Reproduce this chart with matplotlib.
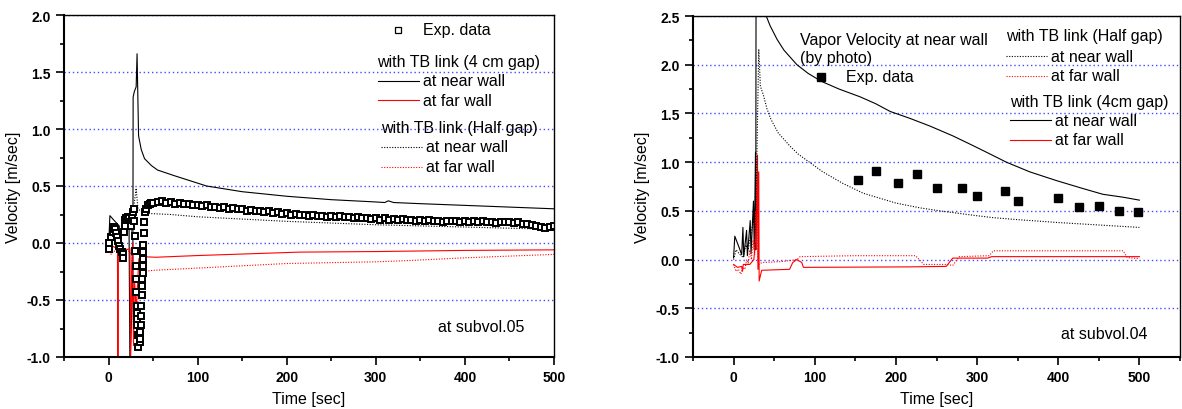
import matplotlib
matplotlib.use("Agg")
import matplotlib.pyplot as plt
from matplotlib.ticker import MultipleLocator, FormatStrFormatter
from matplotlib.lines import Line2D

plt.rcParams['font.family'] = ['Liberation Sans', 'DejaVu Sans']
plt.rcParams['axes.unicode_minus'] = False

# ---------------- subvol.05 (left panel) ----------------
# exp. data (open squares)
exp05_t = [0, 1, 3, 4.5, 5, 6, 7, 8.5, 10, 11, 11.5, 13, 15, 16, 16.5, 17, 18, 19, 20, 22, 23.5, 25, 25.5, 26.5, 27.5,
           28.5, 29, 29.5, 30, 30.5, 31, 31, 31.5, 31.5, 32, 32.2, 32.5, 32.9,
           34.8, 35.2, 35.6, 36, 36.4, 36.7, 37.2, 37.6, 38, 38.3, 38.6, 38.8, 39, 39.2, 39.7, 40, 40.4,
           42, 44, 46, 48, 50,
           55, 60, 65, 70, 75, 80, 85, 90, 95, 100, 105, 110, 115, 120, 125, 130, 135, 140, 145, 150,
           155, 160, 165, 170, 175, 180, 185, 190, 195, 200, 205, 210, 215, 220, 225, 230, 235, 240, 245, 250,
           255, 260, 265, 270, 275, 280, 285, 290, 295, 300, 305, 310, 315, 320, 325, 330, 335, 340, 345, 350,
           355, 360, 365, 370, 375, 380, 385, 390, 395, 400, 405, 410, 415, 420, 425, 430, 435, 440, 445, 450,
           455, 460, 465, 470, 475, 480, 485, 490, 495, 500]
exp05_v = [-0.05, 0.0, 0.05, 0.1, 0.13, 0.14, 0.12, 0.09, 0.05, 0.02, -0.03, -0.05, -0.08, -0.1, -0.13, 0.1, 0.15, 0.2, 0.22, 0.23, 0.22, 0.18, 0.15, 0.22, 0.27,
           0.30, 0.195, 0.065, -0.07, -0.20, -0.32, -0.43, -0.55, -0.61, -0.67, -0.72, -0.81, -0.91,
           -0.87, -0.84, -0.78, -0.72, -0.64, -0.55, -0.46, -0.38, -0.32, -0.26, -0.20, -0.14, -0.08, -0.02, 0.09, 0.18, 0.27,
           0.30, 0.33, 0.34, 0.35, 0.355,
           0.36, 0.37, 0.355, 0.36, 0.345, 0.355, 0.34, 0.345, 0.33, 0.335, 0.325, 0.33, 0.315, 0.32, 0.31, 0.315, 0.30, 0.305, 0.295, 0.30,
           0.285, 0.29, 0.28, 0.285, 0.275, 0.28, 0.265, 0.27, 0.255, 0.26, 0.25, 0.255, 0.245, 0.25, 0.24, 0.245, 0.235, 0.24, 0.23, 0.24,
           0.23, 0.235, 0.225, 0.23, 0.22, 0.225, 0.215, 0.22, 0.21, 0.215, 0.205, 0.215, 0.205, 0.21, 0.20, 0.21, 0.20, 0.205, 0.195, 0.20,
           0.195, 0.20, 0.19, 0.195, 0.185, 0.195, 0.19, 0.195, 0.185, 0.195, 0.185, 0.19, 0.18, 0.19, 0.18, 0.185, 0.175, 0.185, 0.18, 0.18,
           0.175, 0.18, 0.17, 0.17, 0.16, 0.15, 0.14, 0.135, 0.14, 0.15]

# with TB link (4 cm gap), near wall
near4_05_t = [0, 1.5, 6, 12, 13, 16, 20, 23, 24, 27.3, 27.6, 29, 31, 32, 33.7, 36.7, 40.4, 48, 55, 74, 110, 150, 200, 250,
              300, 310, 314, 320, 350, 400, 450, 500]
near4_05_v = [-0.04, 0.24, 0.2, 0.15, -0.05, 0.2, 0.22, 0.15, -1.1, -0.3, 1.28, 1.33, 1.37, 1.66, 0.94, 0.82, 0.74, 0.68, 0.64, 0.59, 0.50, 0.45, 0.41, 0.38,
              0.36, 0.355, 0.37, 0.355, 0.345, 0.33, 0.315, 0.30]
# with TB link (4 cm gap), far wall
far4_05_t = [0, 5, 10, 10.5, 11, 24, 24.7, 26, 27, 28, 29, 31, 34, 38.6, 53, 100, 214, 300, 400, 500]
far4_05_v = [-0.05, -0.03, -0.05, -1.1, -0.08, -0.05, -1.1, -0.2, 0.0, -0.9, -0.3, -0.6, -0.14, -0.12, -0.125, -0.11, -0.08, -0.075, -0.065, -0.06]
# with TB link (Half gap), near wall
nearh_05_t = [0, 3, 8, 12, 18, 22, 26, 28, 31, 33, 36, 42, 70, 100, 200, 300, 400, 500]
nearh_05_v = [-0.05, 0.1, 0.05, 0.0, 0.15, 0.2, 0.1, 0.3, 0.48, 0.3, 0.28, 0.26, 0.25, 0.23, 0.19, 0.16, 0.14, 0.12]
# with TB link (Half gap), far wall
farh_05_t = [0, 3, 6, 10, 20, 26, 28, 30, 32, 35, 38, 50, 100, 200, 300, 334, 400, 500]
farh_05_v = [-0.05, -0.1, -0.07, -0.08, -0.05, -0.1, -0.8, -0.4, -0.6, -0.3, -0.25, -0.24, -0.22, -0.18, -0.165, -0.155, -0.13, -0.10]

# ---------------- subvol.04 (right panel) ----------------
exp04_t = [153, 175, 202, 226, 251, 281, 300, 334, 350, 400, 425, 450, 475, 498]
exp04_v = [0.82, 0.905, 0.785, 0.88, 0.73, 0.73, 0.65, 0.70, 0.60, 0.63, 0.54, 0.55, 0.50, 0.485]

near4_04_t = [0, 1.5, 7, 10, 11.5, 12.5, 16, 17, 20.5, 21.5, 24.5, 25.5, 27, 27.3, 28, 36, 40.2, 45, 53.6, 62, 78, 92, 108,
              130, 156, 175, 193, 217, 242, 270, 290, 312, 336, 365, 398, 430, 455, 480, 500]
near4_04_v = [0.02, 0.24, 0.12, 0.05, 0.33, 0.03, 0.3, 0.04, 0.4, 0.06, 0.6, 0.1, 1.1, 0.1, 5.0, 3.0, 2.5, 2.4, 2.26, 2.15, 2.0, 1.91, 1.83,
              1.75, 1.67, 1.60, 1.52, 1.45, 1.37, 1.27, 1.19, 1.10, 1.0, 0.90, 0.81, 0.73, 0.67, 0.64, 0.61]
far4_04_t = [0, 5, 10, 11, 12, 20, 25, 28, 29.5, 30, 31, 31.5, 34.6, 69, 72.9, 77.8, 84, 86, 217, 262, 270, 313, 318, 500]
far4_04_v = [-0.05, -0.08, -0.07, -0.12, -0.05, -0.05, 0.0, 0.3, 1.07, -0.1, 0.9, -0.22, -0.11, -0.1, -0.03, 0.0, -0.03, -0.08, -0.075, -0.07, 0.015, 0.015, 0.03, 0.03]
nearh_04_t = [0, 3, 8, 12, 15, 18, 22, 25, 27, 29, 31, 33, 37, 41, 46, 55, 70, 80, 95, 110, 135, 160, 200, 230, 254,
              300, 320, 350, 400, 450, 500]
nearh_04_v = [0.0, 0.1, 0.05, 0.02, 0.15, 0.1, 0.3, 0.4, 0.3, 1.2, 2.16, 1.78, 1.68, 1.55, 1.44, 1.30, 1.16, 1.08, 0.99, 0.90, 0.78, 0.68, 0.58, 0.53, 0.50,
              0.45, 0.43, 0.41, 0.38, 0.355, 0.33]
farh_04_t = [0, 3, 6, 9, 11, 14, 16, 18, 20, 22, 24, 26, 27, 28, 29, 30, 31, 35, 60, 78, 82, 150, 224, 231, 234, 262,
             270, 278, 315, 320, 480, 485, 500]
farh_04_v = [-0.05, -0.12, -0.1, -0.15, -0.08, -0.1, 0.0, -0.05, 0.1, 0.0, 0.2, 0.05, 0.5, 0.1, 0.8, 0.0, -0.05, -0.03, -0.02, 0.0, 0.03, 0.04, 0.04, -0.02, -0.05, -0.05,
             -0.06, 0.03, 0.04, 0.09, 0.09, 0.02, 0.01]

W, H = 1182, 410
fig = plt.figure(figsize=(W / 100, H / 100), dpi=100)

DOT = (0, (1.0, 1.4))
GRID = dict(color='#4a4aff', lw=1.0, linestyle=(0, (1, 2)))
FS = 11.5


def style_axes(ax, xlim, ylim):
    ax.set_xlim(*xlim)
    ax.set_ylim(*ylim)
    ax.xaxis.set_major_locator(MultipleLocator(100))
    ax.xaxis.set_minor_locator(MultipleLocator(50))
    ax.yaxis.set_major_locator(MultipleLocator(0.5))
    ax.yaxis.set_minor_locator(MultipleLocator(0.25))
    ax.yaxis.set_major_formatter(FormatStrFormatter('%.1f'))
    ax.tick_params(which='both', direction='out', width=1.2, labelsize=10)
    ax.tick_params(which='major', length=6)
    ax.tick_params(which='minor', length=3)
    for lab in ax.get_xticklabels() + ax.get_yticklabels():
        lab.set_fontweight('bold')
    ax.yaxis.grid(True, **GRID)
    ax.set_axisbelow(True)
    for s in ax.spines.values():
        s.set_linewidth(1.0)
    ax.spines['left'].set_linewidth(1.5)
    ax.spines['bottom'].set_linewidth(1.5)
    ax.set_xlabel('Time [sec]', fontsize=FS, labelpad=5)
    ax.set_ylabel('Velocity [m/sec]', fontsize=FS, labelpad=4)


def fx(px):
    return px / W


def fy(py):
    return 1 - py / H


def leg_line(x0, x1, y, **kw):
    fig.add_artist(Line2D([fx(x0), fx(x1)], [fy(y), fy(y)], transform=fig.transFigure, **kw))


def leg_text(x, y, s):
    fig.text(fx(x), fy(y), s, fontsize=FS, va='center', ha='left')


# left panel
ax1 = fig.add_axes([fx(64), fy(358), fx(554) - fx(64), fy(16) - fy(358)])
ax1.plot(near4_05_t, near4_05_v, color='black', lw=0.8)
ax1.plot(far4_05_t, far4_05_v, color='red', lw=0.8)
ax1.plot(nearh_05_t, nearh_05_v, color='black', lw=0.8, linestyle=DOT)
ax1.plot(farh_05_t, farh_05_v, color='red', lw=0.8, linestyle=DOT)
ax1.plot(exp05_t, exp05_v, linestyle='none', marker='s', markersize=4.8,
         markerfacecolor='white', markeredgecolor='black', markeredgewidth=1.4)
style_axes(ax1, (-50, 500), (-1.0, 2.0))
ax1.text(fx(438), fy(328), 'at subvol.05', fontsize=FS, va='center', transform=fig.transFigure)

fig.add_artist(Line2D([fx(397.7)], [fy(31)], transform=fig.transFigure, linestyle='none', marker='s',
                      markersize=4, markerfacecolor='white', markeredgecolor='black', markeredgewidth=0.9))
leg_text(423, 31, 'Exp. data')
leg_text(377, 62, 'with TB link (4 cm gap)')
leg_line(378, 419, 82, color='black', lw=0.8)
leg_text(423, 82, 'at near wall')
leg_line(378, 419, 101, color='red', lw=0.8)
leg_text(423, 101, 'at far wall')
leg_text(381, 129, 'with TB link (Half gap)')
leg_line(381, 422, 148, color='black', lw=0.8, linestyle=DOT)
leg_text(426, 148, 'at near wall')
leg_line(381, 422, 168, color='red', lw=0.8, linestyle=DOT)
leg_text(426, 168, 'at far wall')

# right panel
ax2 = fig.add_axes([fx(693), fy(358), fx(1180) - fx(693), fy(17) - fy(358)])
ax2.plot(near4_04_t, near4_04_v, color='black', lw=0.8)
ax2.plot(far4_04_t, far4_04_v, color='red', lw=0.8)
ax2.plot(nearh_04_t, nearh_04_v, color='black', lw=0.8, linestyle=DOT)
ax2.plot(farh_04_t, farh_04_v, color='red', lw=0.8, linestyle=DOT)
ax2.plot(exp04_t, exp04_v, linestyle='none', marker='s', markersize=6, color='black')
style_axes(ax2, (-50, 550), (-1.0, 2.5))
ax2.text(fx(1061), fy(335), 'at subvol.04', fontsize=FS, va='center', transform=fig.transFigure)

leg_text(800, 40, 'Vapor Velocity at near wall')
leg_text(800, 59, '(by photo)')
fig.add_artist(Line2D([fx(821)], [fy(78)], transform=fig.transFigure, linestyle='none', marker='s',
                      markersize=6, color='black'))
leg_text(846, 78, 'Exp. data')
leg_text(1006, 37, 'with TB link (Half gap)')
leg_line(1006, 1047, 57, color='black', lw=0.8, linestyle=DOT)
leg_text(1051, 57, 'at near wall')
leg_line(1006, 1047, 77, color='red', lw=0.8, linestyle=DOT)
leg_text(1051, 77, 'at far wall')
leg_text(1010, 102, 'with TB link (4cm gap)')
leg_line(1010, 1051, 121, color='black', lw=0.8)
leg_text(1055, 121, 'at near wall')
leg_line(1010, 1051, 141, color='red', lw=0.8)
leg_text(1055, 141, 'at far wall')

fig.savefig('out.png', dpi=100)
